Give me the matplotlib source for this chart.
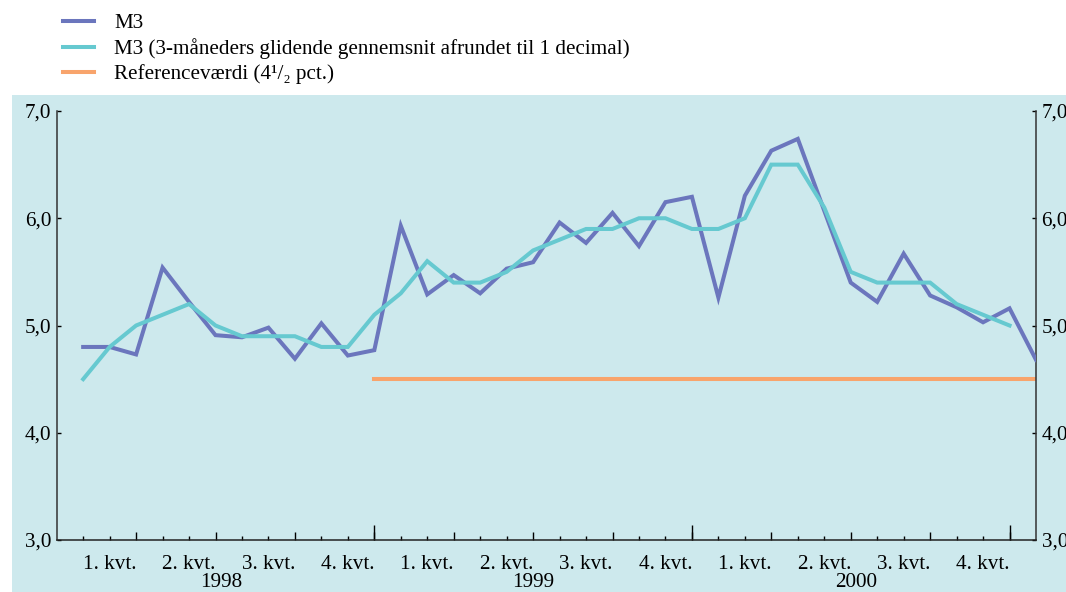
import matplotlib
matplotlib.use("Agg")
import matplotlib.pyplot as plt
from matplotlib.patches import Rectangle
import numpy as np

plt.rcParams["font.family"] = ["Liberation Serif", "DejaVu Serif"]

# Monthly data, Jan 1998 .. Jan 2001 (month index 1 = Jan 1998)
m3 = [4.80, 4.80, 4.73, 5.54, 5.22, 4.91, 4.89, 4.98, 4.69, 5.02, 4.72, 4.77,
      5.93, 5.29, 5.47, 5.30, 5.53, 5.59, 5.96, 5.77, 6.05, 5.74, 6.15, 6.20,
      5.26, 6.21, 6.63, 6.74, 6.07, 5.40, 5.22, 5.67, 5.28, 5.17, 5.03, 5.16,
      4.68]
m3_avg = [4.5, 4.8, 5.0, 5.1, 5.2, 5.0, 4.9, 4.9, 4.9, 4.8, 4.8, 5.1,
          5.3, 5.6, 5.4, 5.4, 5.5, 5.7, 5.8, 5.9, 5.9, 6.0, 6.0, 5.9,
          5.9, 6.0, 6.5, 6.5, 6.1, 5.5, 5.4, 5.4, 5.4, 5.2, 5.1, 5.0]
ref_value = 4.5
ref_start, ref_end = 12, 37          # Dec 1998 .. Jan 2001

quarter_labels = ["1. kvt.", "2. kvt.", "3. kvt.", "4. kvt."] * 3
years = ["1998", "1999", "2000"]
year_label_pos = [6.2, 18.0, 30.2]
y_ticks = [3.0, 4.0, 5.0, 6.0, 7.0]
y_ticklabels = ["3,0", "4,0", "5,0", "6,0", "7,0"]

months_m3 = np.arange(1, len(m3) + 1)
months_avg = np.arange(1, len(m3_avg) + 1)

C_M3 = "#6b76bd"
C_AVG = "#66c9d0"
C_REF = "#f8a46c"
BG = "#cde9ed"
FS = 15.2

fig = plt.figure(figsize=(10.66, 5.92), dpi=100)
fig.patch.set_facecolor("white")
fig.add_artist(Rectangle((12 / 1066, 0), 1 - 12 / 1066, 497 / 592,
                         transform=fig.transFigure, facecolor=BG,
                         edgecolor="none", zorder=0))

ax = fig.add_axes([56.7 / 1066, 52 / 592, 979.3 / 1066, 429 / 592])
ax.set_facecolor("none")

l1, = ax.plot(months_m3, m3, color=C_M3, lw=2.9, solid_joinstyle="miter",
              label="M3", zorder=3)
l2, = ax.plot(months_avg, m3_avg, color=C_AVG, lw=2.9, solid_joinstyle="miter",
              label="M3 (3-måneders glidende gennemsnit afrundet til 1 decimal)",
              zorder=4)
l3, = ax.plot([ref_start, ref_end], [ref_value, ref_value], color=C_REF, lw=2.9,
              label="Referenceværdi (4¹/₂ pct.)", zorder=2)

ax.set_xlim(0, 37)
ax.set_ylim(3.0, 7.0)

ax.spines["top"].set_visible(False)
for s in ["left", "right", "bottom"]:
    ax.spines[s].set_linewidth(1.1)
    ax.spines[s].set_color("#222222")
ax.spines["left"].set_color("#333333")
ax.spines["right"].set_color("#333333")

# y axis: labels on both sides
ax.set_yticks(y_ticks)
ax.set_yticklabels(y_ticklabels)
ax.tick_params(axis="y", which="both", direction="in", length=3, width=1,
               labelsize=FS, left=True, right=True, labelleft=True,
               labelright=True, pad=4)

# x axis: monthly minor ticks, quarter-end major ticks
ax.set_xticks(np.arange(3, 37, 3))
ax.set_xticklabels([])
ax.set_xticks(np.arange(1, 37), minor=True)
ax.tick_params(axis="x", which="major", direction="in", length=6, width=1)
ax.tick_params(axis="x", which="minor", direction="in", length=3, width=1)

# year-end ticks
sec_y = ax.secondary_xaxis("bottom")
sec_y.set_xticks([12, 24, 36])
sec_y.set_xticklabels([])
sec_y.tick_params(direction="in", length=11, width=1)
sec_y.spines["bottom"].set_visible(False)

# quarter labels (mid-quarter months)
sec_q = ax.secondary_xaxis("bottom")
sec_q.set_xticks(np.arange(2, 37, 3))
sec_q.set_xticklabels(quarter_labels, fontsize=FS)
sec_q.tick_params(length=0, pad=10.5)
sec_q.spines["bottom"].set_visible(False)

# year labels
sec_yr = ax.secondary_xaxis("bottom")
sec_yr.set_xticks(year_label_pos)
sec_yr.set_xticklabels(years, fontsize=FS)
sec_yr.tick_params(length=0, pad=23.5)
sec_yr.spines["bottom"].set_visible(False)

fig.legend(handles=[l1, l2, l3], loc="upper left",
           bbox_to_anchor=(52 / 1066, 1 - 3 / 592), frameon=False,
           fontsize=FS, handlelength=1.5, handletextpad=0.95,
           labelspacing=0.24, borderaxespad=0, borderpad=0.5)

fig.savefig("out.png", dpi=100)
